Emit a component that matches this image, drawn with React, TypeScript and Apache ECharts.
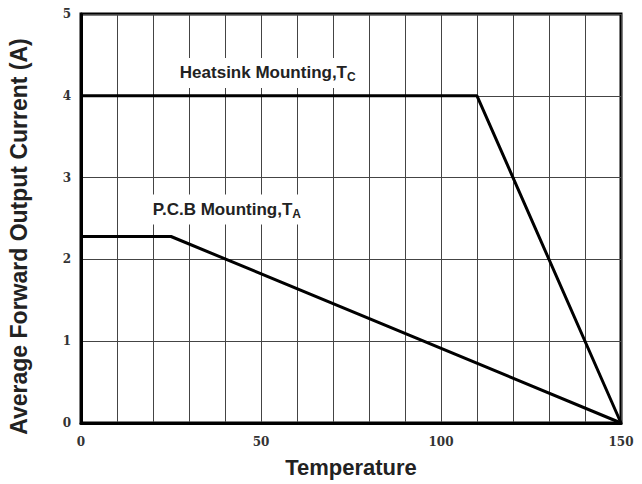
import React, { useEffect, useRef } from "react";
import * as echarts from "echarts";

const heatsinkTemps = [0, 110, 150];
const heatsinkCurrent = [4, 4, 0];
const pcbTemps = [0, 25, 150];
const pcbCurrent = [2.28, 2.28, 0];
const heatsinkLabelAt = [26.9, 4.28];
const pcbLabelAt = [19.4, 2.61];

export default function App() {
  const ref = useRef<HTMLDivElement>(null);
  useEffect(() => {
    const chart = echarts.init(ref.current!, null, { renderer: "svg" });
    const lineStyle = { color: "#000", width: 3 };
    const richLabel = (main: string, sub: string) => ({
      show: true,
      position: "right",
      distance: 0,
      formatter: `{a|${main}}{s|${sub}}`,
      backgroundColor: "#fff",
      padding: [5, 3, 5, 2],
      rich: {
        a: { fontFamily: "Liberation Sans", fontWeight: "bold", fontSize: 17, color: "#222" },
        s: { fontFamily: "Liberation Sans", fontWeight: "bold", fontSize: 12, color: "#222", verticalAlign: "bottom", padding: [8, 0, 0, 0] },
      },
    });
    chart.setOption({
      animation: false,
      backgroundColor: "#fff",
      grid: {
        left: 81, right: 21, top: 14, bottom: 61,
        containLabel: false, outerBoundsMode: "none",
        show: true, borderColor: "#000", borderWidth: 3,
      },
      xAxis: {
        type: "value",
        min: 0,
        max: 150,
        interval: 10,
        name: "Temperature",
        nameLocation: "middle",
        nameGap: 33,
        nameTextStyle: { fontFamily: "Liberation Sans", fontWeight: "bold", fontSize: 22, color: "#222" },
        axisLine: { show: true, lineStyle: { color: "#000", width: 3 } },
        axisTick: { show: false },
        axisLabel: {
          formatter: (v: number) => (v % 50 === 0 ? String(v) : ""),
          fontFamily: "DejaVu Serif",
          fontWeight: "bold",
          fontSize: 12,
          color: "#333",
          margin: 13,
        },
        splitLine: { show: true, lineStyle: { color: "#444", width: 1 } },
      },
      yAxis: {
        type: "value",
        min: 0,
        max: 5,
        interval: 1,
        name: "Average Forward Output Current (A)",
        nameLocation: "middle",
        nameGap: 51,
        nameTextStyle: { fontFamily: "Liberation Sans", fontWeight: "bold", fontSize: 23, color: "#222", padding: [0, 36, 0, 0] },
        axisLine: { show: true, lineStyle: { color: "#000", width: 3 } },
        axisTick: { show: false },
        axisLabel: { fontFamily: "DejaVu Serif", fontWeight: "bold", fontSize: 12, color: "#333", margin: 10 },
        splitLine: { show: true, lineStyle: { color: "#444", width: 1 } },
      },
      series: [
        {
          type: "line",
          data: heatsinkTemps.map((t, i) => [t, heatsinkCurrent[i]]),
          symbol: "none",
          lineStyle,
          z: 3,
          markPoint: {
            symbol: "circle",
            symbolSize: 0,
            data: [{ coord: heatsinkLabelAt, label: richLabel("Heatsink Mounting,T", "C") }],
          },
        },
        {
          type: "line",
          data: pcbTemps.map((t, i) => [t, pcbCurrent[i]]),
          symbol: "none",
          lineStyle,
          z: 3,
          markPoint: {
            symbol: "circle",
            symbolSize: 0,
            data: [{ coord: pcbLabelAt, label: richLabel("P.C.B Mounting,T", "A") }],
          },
        },
      ],
    });
    return () => chart.dispose();
  }, []);
  return <div ref={ref} style={{ width: 642, height: 484, position: "absolute", left: 0, top: 0 }} />;
}
